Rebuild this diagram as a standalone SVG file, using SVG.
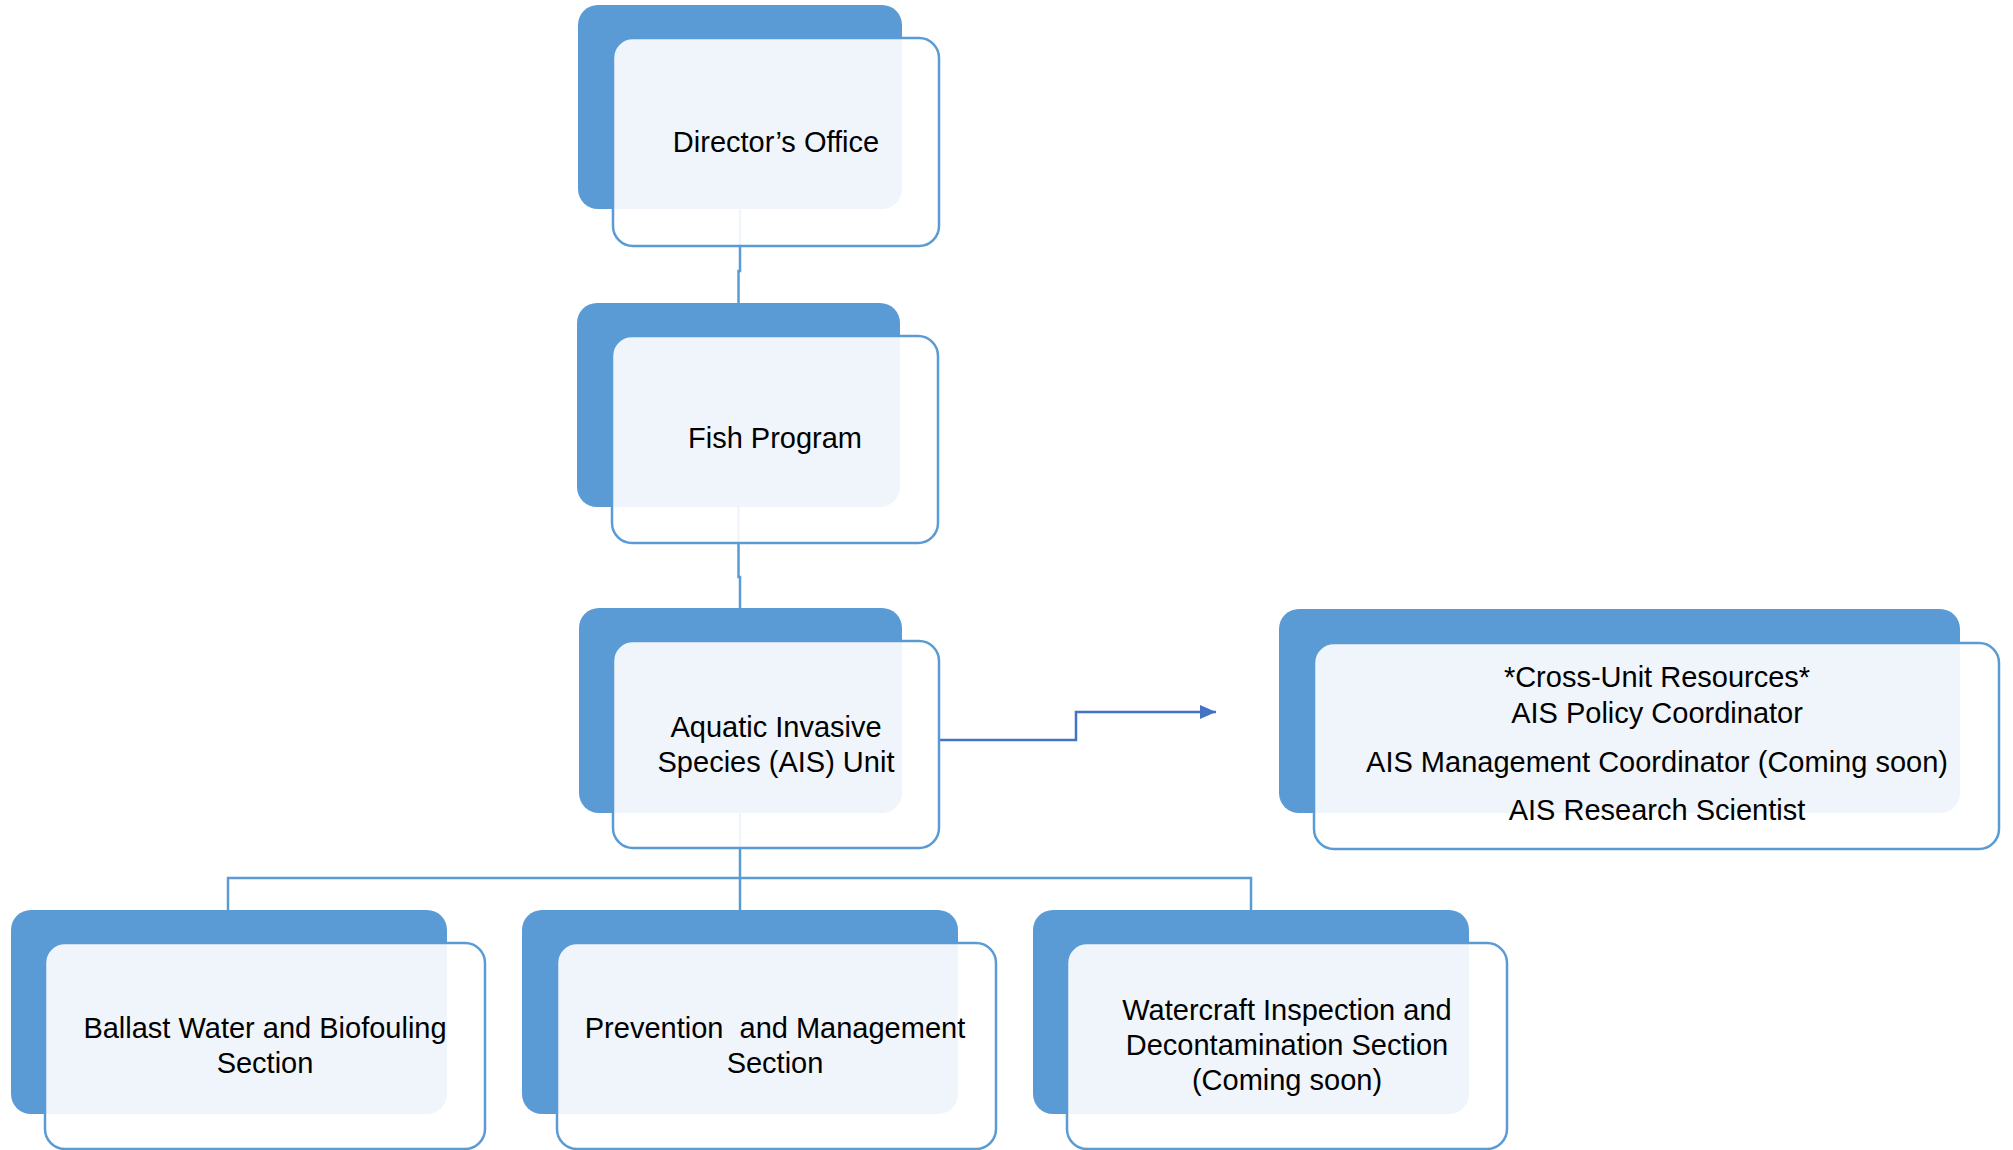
<svg xmlns="http://www.w3.org/2000/svg" width="2013" height="1150" viewBox="0 0 2013 1150">
<defs>
<style>
.back{fill:#5B9BD5;}
.front{fill:#FFFFFF;fill-opacity:0.9;stroke:#5B9BD5;stroke-width:2.5;}
.lbl{font-family:"Liberation Sans",Arial,sans-serif;font-size:29px;fill:#000;text-anchor:middle;}
.conn{fill:none;stroke:#5B9BD5;stroke-width:2.5;}
.arr{fill:none;stroke:#4472C4;stroke-width:2.5;}
</style>
<marker id="ah" markerWidth="16" markerHeight="14" refX="16" refY="7" orient="auto" markerUnits="userSpaceOnUse" viewBox="0 0 16 14">
<path d="M0,0 L16,7 L0,14 Z" fill="#4472C4"/>
</marker>
</defs>
<rect width="2013" height="1150" fill="#FFFFFF"/>
<g id="connectors">
<path class="conn" d="M740,209 V271 H738.5 V303"/>
<path class="conn" d="M738.5,507 V577 H740 V608"/>
<path class="conn" d="M740,813 V910"/>
<path class="conn" d="M228,910 V878 H1251 V910"/>
<path class="arr" d="M939,740 H1076 V712 H1216" marker-end="url(#ah)"/>
</g>
<g id="director">
<rect class="back" x="578" y="5" width="324" height="204" rx="20"/>
<rect class="front" x="613" y="38" width="326" height="208" rx="20"/>
<text class="lbl" x="776" y="152">Director’s Office</text>
</g>
<g id="fish">
<rect class="back" x="577" y="303" width="323" height="204" rx="20"/>
<rect class="front" x="612" y="336" width="326" height="207" rx="20"/>
<text class="lbl" x="775" y="448">Fish Program</text>
</g>
<g id="ais">
<rect class="back" x="579" y="608" width="323" height="205" rx="20"/>
<rect class="front" x="613" y="641" width="326" height="207" rx="20"/>
<text class="lbl" x="776" y="737">Aquatic Invasive</text>
<text class="lbl" x="776" y="772">Species (AIS) Unit</text>
</g>
<g id="crossunit">
<rect class="back" x="1279" y="609" width="681" height="204" rx="20"/>
<rect class="front" x="1314" y="643" width="685" height="206" rx="20"/>
<text class="lbl" x="1657" y="687">*Cross-Unit Resources*</text>
<text class="lbl" x="1657" y="723">AIS Policy Coordinator</text>
<text class="lbl" x="1657" y="772">AIS Management Coordinator (Coming soon)</text>
<text class="lbl" x="1657" y="820">AIS Research Scientist</text>
</g>
<g id="ballast">
<rect class="back" x="11" y="910" width="436" height="204" rx="20"/>
<rect class="front" x="45" y="943" width="440" height="206" rx="20"/>
<text class="lbl" x="265" y="1038">Ballast Water and Biofouling</text>
<text class="lbl" x="265" y="1073">Section</text>
</g>
<g id="prevention">
<rect class="back" x="522" y="910" width="436" height="204" rx="20"/>
<rect class="front" x="557" y="943" width="439" height="206" rx="20"/>
<text class="lbl" x="775" y="1038" xml:space="preserve">Prevention  and Management</text>
<text class="lbl" x="775" y="1073">Section</text>
</g>
<g id="watercraft">
<rect class="back" x="1033" y="910" width="436" height="204" rx="20"/>
<rect class="front" x="1067" y="943" width="440" height="206" rx="20"/>
<text class="lbl" x="1287" y="1020">Watercraft Inspection and</text>
<text class="lbl" x="1287" y="1055">Decontamination Section</text>
<text class="lbl" x="1287" y="1090">(Coming soon)</text>
</g>
</svg>
